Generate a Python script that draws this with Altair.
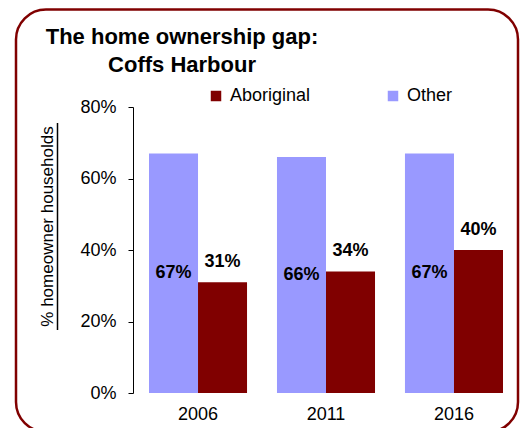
import altair as alt
import pandas as pd

# ---- data ----
years = ["2006", "2011", "2016"]
other_pct = [67, 66, 67]
aboriginal_pct = [31, 34, 40]
legend_order = ["Aboriginal", "Other"]
bar_order = ["Other", "Aboriginal"]
colors = ["#800000", "#9999FF"]
y_ticks = [0, 20, 40, 60, 80]
title_lines = ["The home ownership gap:", "Coffs Harbour"]
y_title = "% homeowner households"

rows = []
for i, yr in enumerate(years):
    rows.append({"year": yr, "group": "Other", "value": other_pct[i]})
    rows.append({"year": yr, "group": "Aboriginal", "value": aboriginal_pct[i]})
df = pd.DataFrame(rows)
df["label"] = df["value"].astype(int).astype(str) + "%"
df["mid"] = df["value"] / 2

FONT = "Liberation Sans"
W, H = 386, 286

x_enc = alt.X(
    "year:N",
    scale=alt.Scale(paddingInner=0.234, paddingOuter=0.125),
    axis=alt.Axis(title=None, labelAngle=0, domain=False, ticks=False,
                  labelFontSize=18, labelPadding=12, labelFont=FONT,
                  labelColor="black"),
)
xo_enc = alt.XOffset("group:N", scale=alt.Scale(domain=bar_order, paddingInner=0, paddingOuter=0))

y_scale = alt.Scale(domain=[0, 80], nice=False)
y_axis = alt.Axis(
    values=y_ticks, labelExpr="datum.value + '%'", grid=False,
    domainColor="black", tickColor="black", tickSize=5,
    labelFontSize=18, labelFont=FONT, labelColor="black", labelPadding=12,
    title=y_title, titleFont=FONT, titleFontSize=17, titleFontWeight="normal",
    titleColor="black", titleX=-86, titleY=119, titleAlign="center",
    titleBaseline="middle", titleAngle=270,
)

bars = alt.Chart(df).mark_bar().encode(
    x=x_enc,
    xOffset=xo_enc,
    y=alt.Y("value:Q", scale=y_scale, axis=y_axis),
    color=alt.Color(
        "group:N",
        scale=alt.Scale(domain=legend_order, range=colors),
        legend=alt.Legend(
            title=None, orient="none", legendX=74, legendY=-20, direction="horizontal",
            symbolType="square", symbolSize=110, symbolStrokeWidth=0, symbolOpacity=1,
            labelFont=FONT, labelFontSize=18, labelColor="black", labelOffset=5,
            columnPadding=73, padding=0,
        ),
    ),
)

other_text = alt.Chart(df).transform_filter(alt.datum.group == "Other").mark_text(
    font=FONT, fontSize=18, fontWeight="bold", color="black", baseline="middle"
).encode(x=x_enc, xOffset=xo_enc, y=alt.Y("mid:Q", scale=y_scale, axis=y_axis), text="label:N")

abo_text = alt.Chart(df).transform_filter(alt.datum.group == "Aboriginal").mark_text(
    font=FONT, fontSize=18, fontWeight="bold", color="black", baseline="middle", dy=-20
).encode(x=x_enc, xOffset=xo_enc, y=alt.Y("value:Q", scale=y_scale, axis=y_axis), text="label:N")

title_df = pd.DataFrame({"line": title_lines, "idx": [0, 1]})
title1 = alt.Chart(title_df).transform_filter(alt.datum.idx == 0).mark_text(
    font=FONT, fontSize=22, fontWeight="bold", color="black", align="center", baseline="alphabetic"
).encode(text="line:N", x=alt.value(49), y=alt.value(-63.5))
title2 = alt.Chart(title_df).transform_filter(alt.datum.idx == 1).mark_text(
    font=FONT, fontSize=22, fontWeight="bold", color="black", align="center", baseline="alphabetic"
).encode(text="line:N", x=alt.value(49), y=alt.value(-35.5))

deco = pd.DataFrame({"k": [0]})
underline = alt.Chart(deco).mark_rule(color="black", strokeWidth=1.5).encode(
    x=alt.value(-75.5), y=alt.value(16), y2=alt.value(223)
)
frame = alt.Chart(deco).mark_rect(
    fillOpacity=0, stroke="#800000", strokeWidth=2.5, cornerRadius=30
).encode(x=alt.value(-117), x2=alt.value(385), y=alt.value(-97.5), y2=alt.value(325))

chart = alt.layer(bars, other_text, abo_text, title1, title2, underline, frame).properties(
    width=W, height=H,
    autosize=alt.AutoSizeParams(type="none"),
    padding={"left": 125, "top": 99, "right": 1, "bottom": 40},
).configure(background="white").configure_view(stroke=None)

chart.save("out.html", embed_options={"renderer": "svg", "actions": False})
